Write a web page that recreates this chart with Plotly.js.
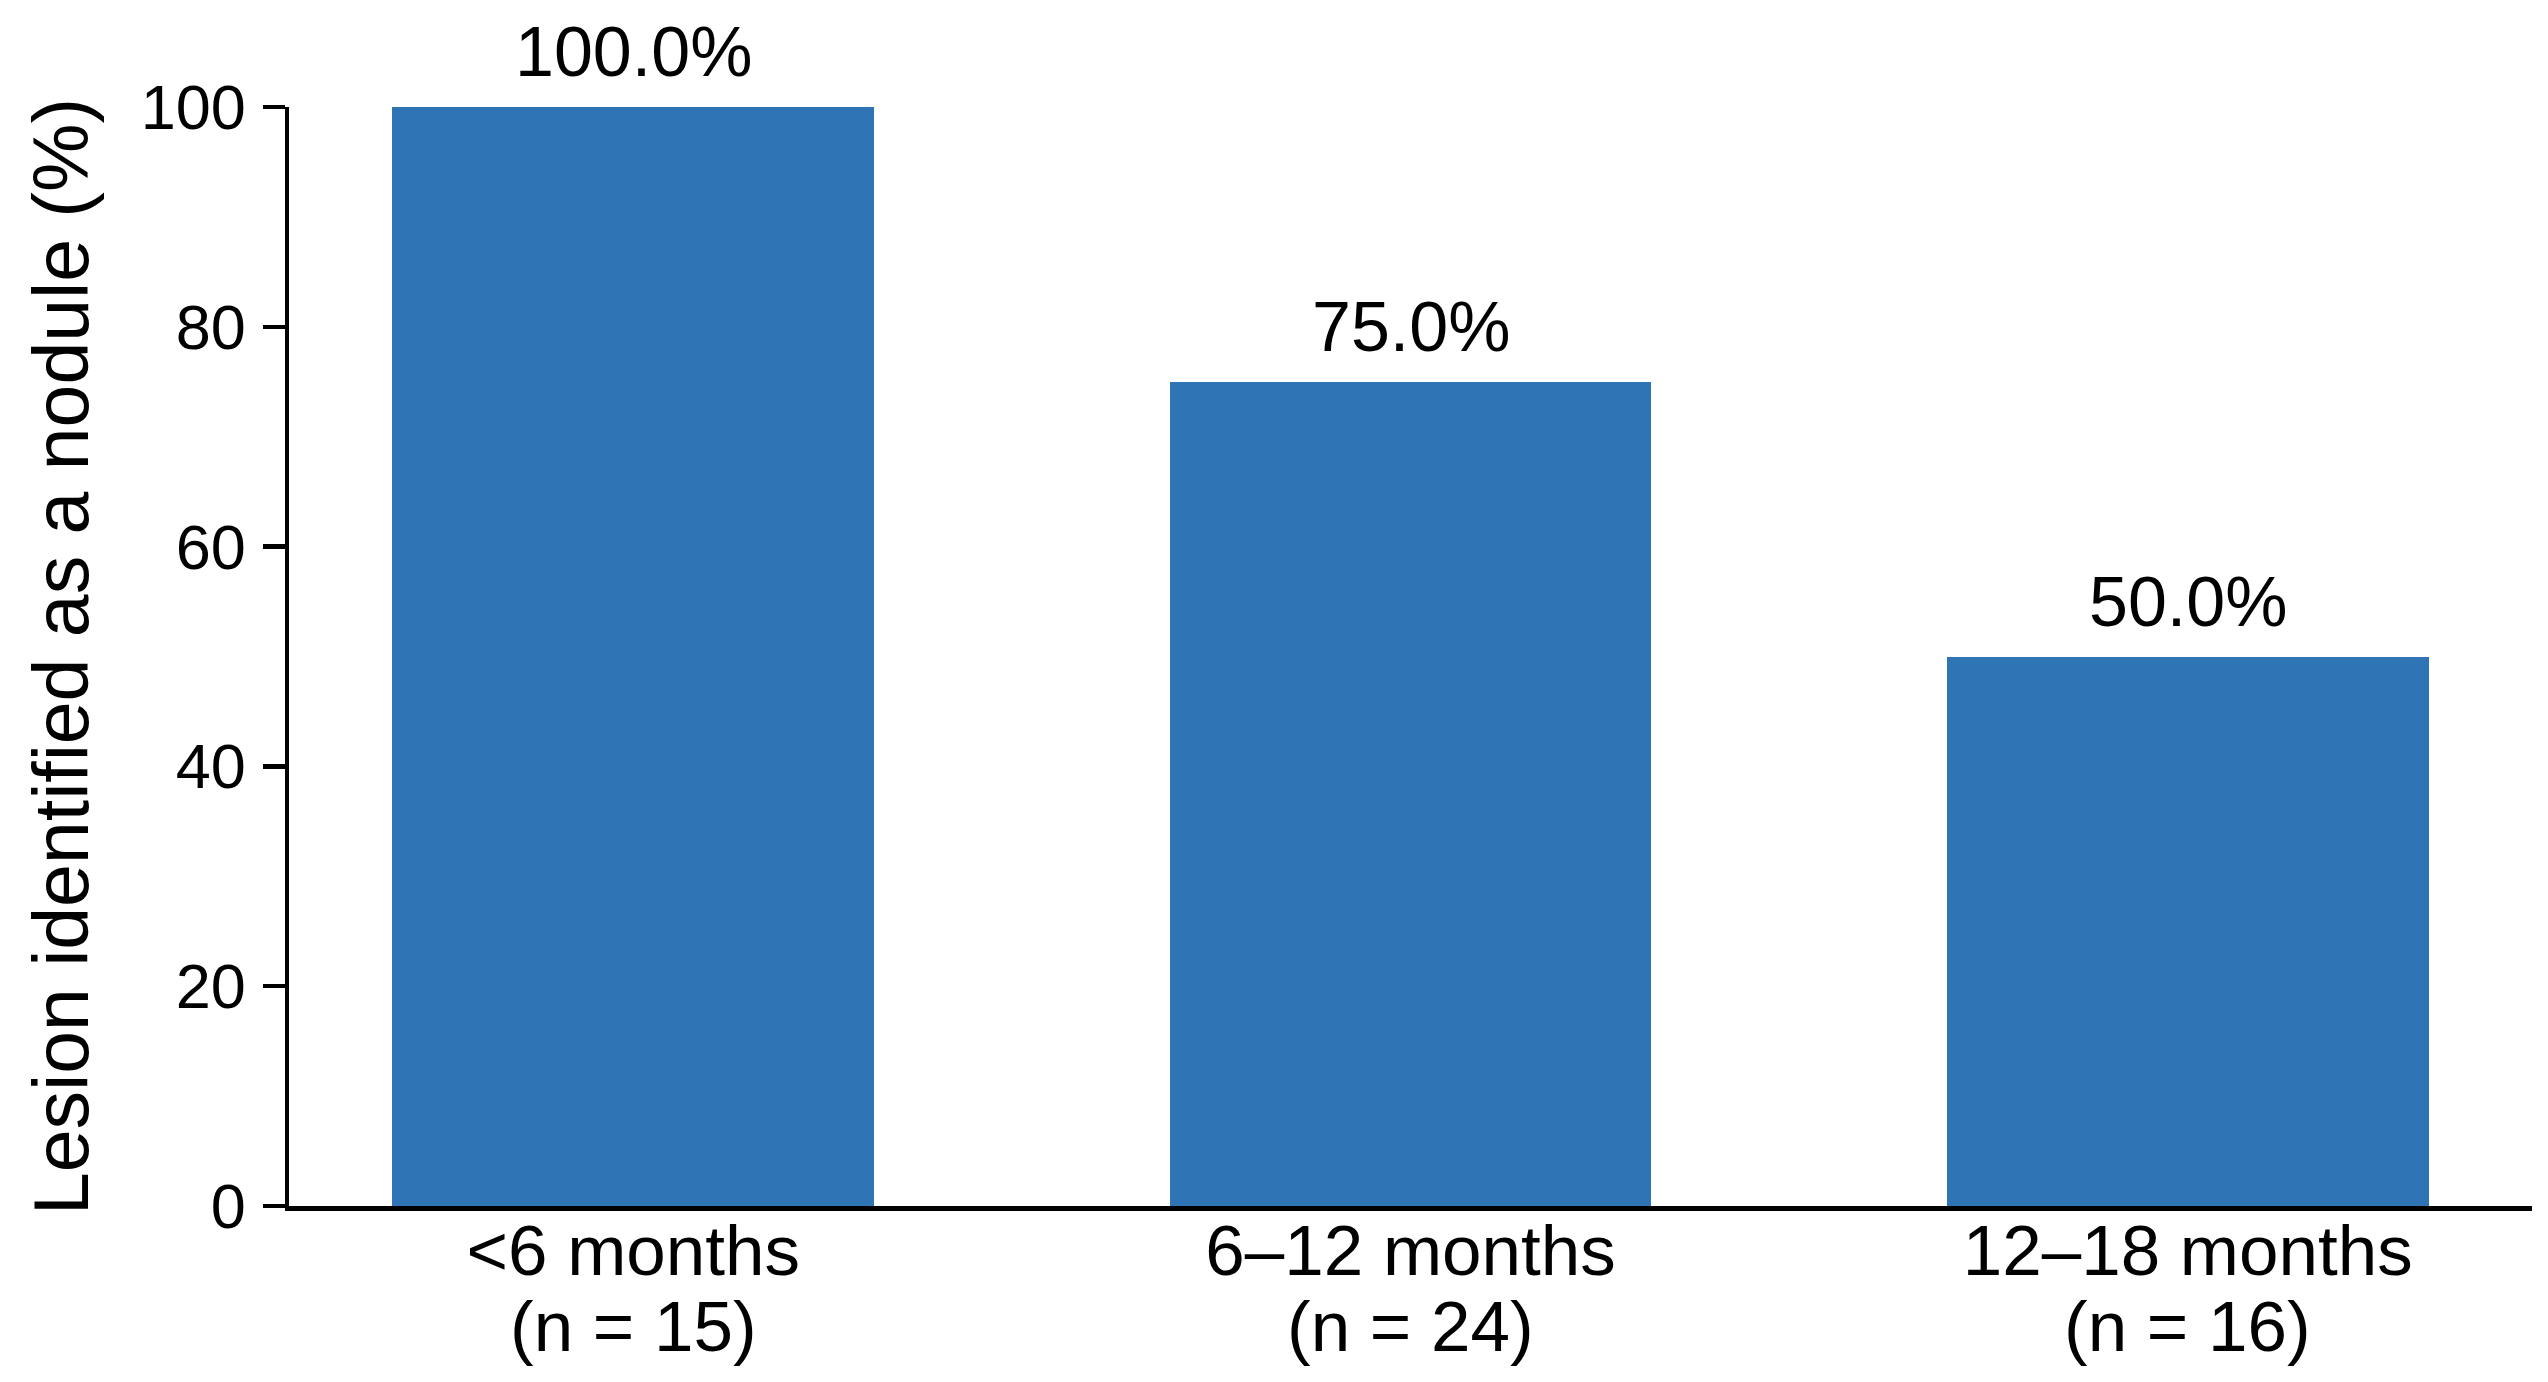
<!DOCTYPE html>
<html>
<head>
<meta charset="utf-8">
<script src="https://cdn.plot.ly/plotly-3.0.1.min.js"></script>
<style>
html,body{margin:0;padding:0;background:#fff;}
#chart{width:2548px;height:1382px;}
</style>
</head>
<body>
<div id="chart"></div>
<script>
var categories = ['<6 months', '6–12 months', '12–18 months'];
var sampleSizes = ['(n = 15)', '(n = 24)', '(n = 16)'];
var values = [100.0, 75.0, 50.0];
var labels = ['100.0%', '75.0%', '50.0%'];
var yTicks = [0, 20, 40, 60, 80, 100];

var FONT = '"Liberation Sans", Arial, sans-serif';

var trace = {
  type: 'bar',
  x: categories,
  y: values,
  width: 0.62,
  marker: {color: '#2f74b4', line: {width: 0}},
  hoverinfo: 'none'
};

var annotations = categories.map(function(c, i){
  return {
    x: c, y: values[i], xref: 'x', yref: 'y',
    text: labels[i], showarrow: false,
    yanchor: 'bottom', yshift: 14,
    font: {family: FONT, size: 70, color: '#000'}
  };
}).concat(categories.map(function(c, i){
  return {
    x: c, y: 0, xref: 'x', yref: 'paper',
    text: sampleSizes[i], showarrow: false,
    yanchor: 'middle', yshift: -120,
    font: {family: FONT, size: 71, color: '#000'}
  };
}));

var layout = {
  width: 2548, height: 1382,
  paper_bgcolor: '#fff', plot_bgcolor: '#fff',
  margin: {l: 289, r: 16, t: 107, b: 176, pad: 0},
  showlegend: false,
  bargap: 0,
  font: {family: FONT, color: '#000'},
  xaxis: {
    type: 'category',
    range: [-0.443, 2.443],
    showline: true, linecolor: '#000', linewidth: 4.5,
    ticks: '', showgrid: false, zeroline: false,
    tickfont: {family: FONT, size: 71, color: '#000'},
    ticklabelstandoff: -21,
    fixedrange: true
  },
  yaxis: {
    range: [0, 100],
    tickvals: yTicks,
    ticktext: yTicks.map(String),
    showline: true, linecolor: '#000', linewidth: 4.5,
    ticks: 'outside', ticklen: 22, tickwidth: 4.5, tickcolor: '#000',
    showgrid: false, zeroline: false,
    tickfont: {family: FONT, size: 63, color: '#000'},
    ticklabelstandoff: 4,
    title: {text: 'Lesion identified as a nodule (%)', font: {family: FONT, size: 77, color: '#000'}, standoff: 28},
    fixedrange: true
  },
  annotations: annotations
};

Plotly.newPlot('chart', [trace], layout, {displayModeBar: false, staticPlot: true});
</script>
</body>
</html>
